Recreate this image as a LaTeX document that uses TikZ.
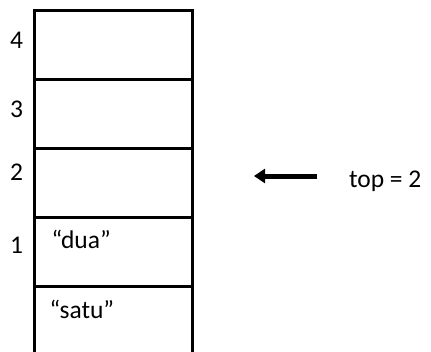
\documentclass[tikz,border=0pt]{standalone}
\usepackage{fontspec}
\setmainfont{Carlito}
\usetikzlibrary{arrows.meta}
\begin{document}
\begin{tikzpicture}[x=1pt,y=-1pt,
  cell/.style={draw,line width=3pt,minimum width=157.5pt,minimum height=69.2pt,inner sep=0pt,outer sep=0pt},
  txt/.style={font=\fontsize{25.5}{30}\selectfont,inner sep=0pt,outer sep=0pt},
  idx/.style={txt,anchor=base},
  content/.style={txt,anchor=base west},
  pointer/.style={line width=5pt,-{Triangle[length=11pt,width=14pt]}}]
\useasboundingbox (0,0) rectangle (431,351);
\node[cell] (c4) at (113.25,44.6) {};
\node[cell] (c3) at (113.25,113.8) {};
\node[cell] (c2) at (113.25,183) {};
\node[cell] (c1) at (113.25,252.2) {};
\node[cell] (c0) at (113.25,321.4) {};
\node[idx] (i4) at (16.7,48) {4};
\node[idx] (i3) at (16.7,117) {3};
\node[idx] (i2) at (16.7,180) {2};
\node[idx] (i1) at (16.7,253) {1};
\node[content] (v1) at (51.5,248.3) {“dua”};
\node[content] (v0) at (49.5,318.3) {“satu”};
\node[content] (top) at (349,187.3) {top = 2};
\coordinate (as) at (317,176);
\coordinate (ae) at (254,176);
\draw[pointer] (as) -- (ae);
\end{tikzpicture}
\end{document}
